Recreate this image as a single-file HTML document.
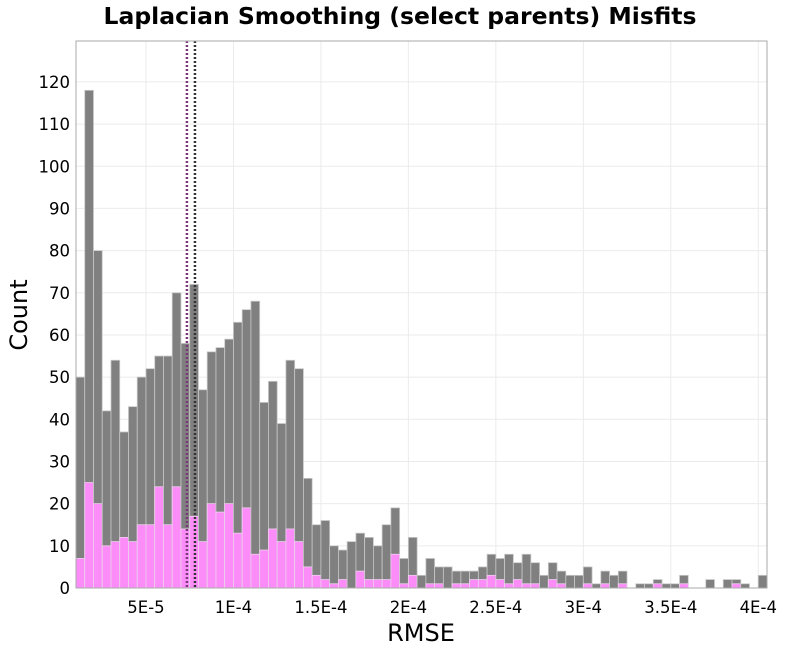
<!DOCTYPE html>
<html><head><meta charset="utf-8"><style>
html,body{margin:0;padding:0;background:#fff;}
svg{display:block;font-family:"DejaVu Sans","Liberation Sans",sans-serif;}
</style></head><body>
<svg id="chart" width="800" height="650" viewBox="0 0 800 650">
<text x="400" y="24" text-anchor="middle" font-size="23.5" font-weight="bold">Laplacian Smoothing (select parents) Misfits</text>
<g id="grid"></g><g id="bars"></g><g id="lines"></g><g id="axes"></g>
<text x="421" y="641" text-anchor="middle" font-size="24">RMSE</text>
<text transform="translate(27,315) rotate(-90)" text-anchor="middle" font-size="24">Count</text>
</svg>
<script>
const binStart = 1e-5;
const binWidth = 5e-6;
const totalCounts = [50,118,80,42,54,37,43,50,52,55,55,70,58,72,47,56,57,59,63,66,68,44,49,39,54,52,26,15,
16,10,9,11,13,12,10,15,19,7,12,3,7,5,5,4,4,4,5,8,7,8,6,8,6,
3,6,4,3,3,5,1,4,3,4,0,1,1,2,1,1,3,0,0,2,0,2,2,1,0,3];
const selectedCounts = [7,25,20,10,11,12,11,15,15,24,15,24,14,17,11,20,18,20,13,19,8,9,14,11,14,11,5,3,
2,1,2,0,4,2,2,2,8,1,3,0,1,1,0,1,1,2,2,3,2,1,2,1,1,
0,2,1,0,0,1,0,1,0,1,0,0,0,1,0,0,1,0,0,0,0,0,1,0,0,0];
const xTicks = [5e-5,1e-4,1.5e-4,2e-4,2.5e-4,3e-4,3.5e-4,4e-4];
const xTickLabels = ["5E-5","1E-4","1.5E-4","2E-4","2.5E-4","3E-4","3.5E-4","4E-4"];
const yTicks = [0,10,20,30,40,50,60,70,80,90,100,110,120];
const meanSelected = 7.34e-5;
const meanAll = 7.8e-5;

const L=76,R=767,T=41,B=588;
const xMin=1e-5,xMax=4.05e-4,yMax=129.7;
const NS="http://www.w3.org/2000/svg";
function xs(v){return L+(v-xMin)/(xMax-xMin)*(R-L);}
function ys(v){return B-v/yMax*(B-T);}
function mk(tag,attrs,parent){const e=document.createElementNS(NS,tag);for(const k in attrs)e.setAttribute(k,attrs[k]);parent.appendChild(e);return e;}
const grid=document.getElementById('grid'),bars=document.getElementById('bars'),lines=document.getElementById('lines'),axes=document.getElementById('axes');
mk('rect',{x:L,y:T,width:R-L,height:B-T,fill:'#fff'},grid);
yTicks.forEach(t=>{
  const g=mk('line',{x1:L,x2:R,y1:ys(t),y2:ys(t),stroke:'#ebebeb','stroke-width':1},grid);
  
  
  const lb=mk('text',{x:L-6,y:ys(t)+6,'text-anchor':'end','font-size':16.5},axes);
  lb.textContent=t;
  
  
});
xTicks.forEach((t,i)=>{
  const g=mk('line',{x1:xs(t),x2:xs(t),y1:T,y2:B,stroke:'#ebebeb','stroke-width':1},grid);
  
  
  const lb=mk('text',{x:xs(t),y:613,'text-anchor':'middle','font-size':16.5},axes);
  lb.textContent=xTickLabels[i];
  
  
});
totalCounts.forEach((c,i)=>{
  const x0=xs(binStart+i*binWidth),x1=xs(binStart+(i+1)*binWidth);
  if(c>0){
    const r=mk('rect',{x:x0,y:ys(c),width:x1-x0,height:B-ys(c),fill:'#808080',stroke:'#c8c8c8','stroke-width':0.8},bars);
    
    
  }
  const s=selectedCounts[i];
  if(s>0){
    const r2=mk('rect',{x:x0,y:ys(s),width:x1-x0,height:B-ys(s),fill:'#fb8cf8',stroke:'#f0d0f0','stroke-width':0.8},bars);
    
    
  }
});
const l1=mk('line',{x1:xs(meanSelected),x2:xs(meanSelected),y1:T,y2:B,stroke:'#7a3a7a','stroke-width':2.5,'stroke-dasharray':'2,2'},lines);


const l2=mk('line',{x1:xs(meanAll),x2:xs(meanAll),y1:T,y2:B,stroke:'#333','stroke-width':2.5,'stroke-dasharray':'2,2'},lines);


const fr=mk('rect',{x:L,y:T,width:R-L,height:B-T,fill:'none',stroke:'#aaa','stroke-width':1},axes);


</script>
</body></html>
